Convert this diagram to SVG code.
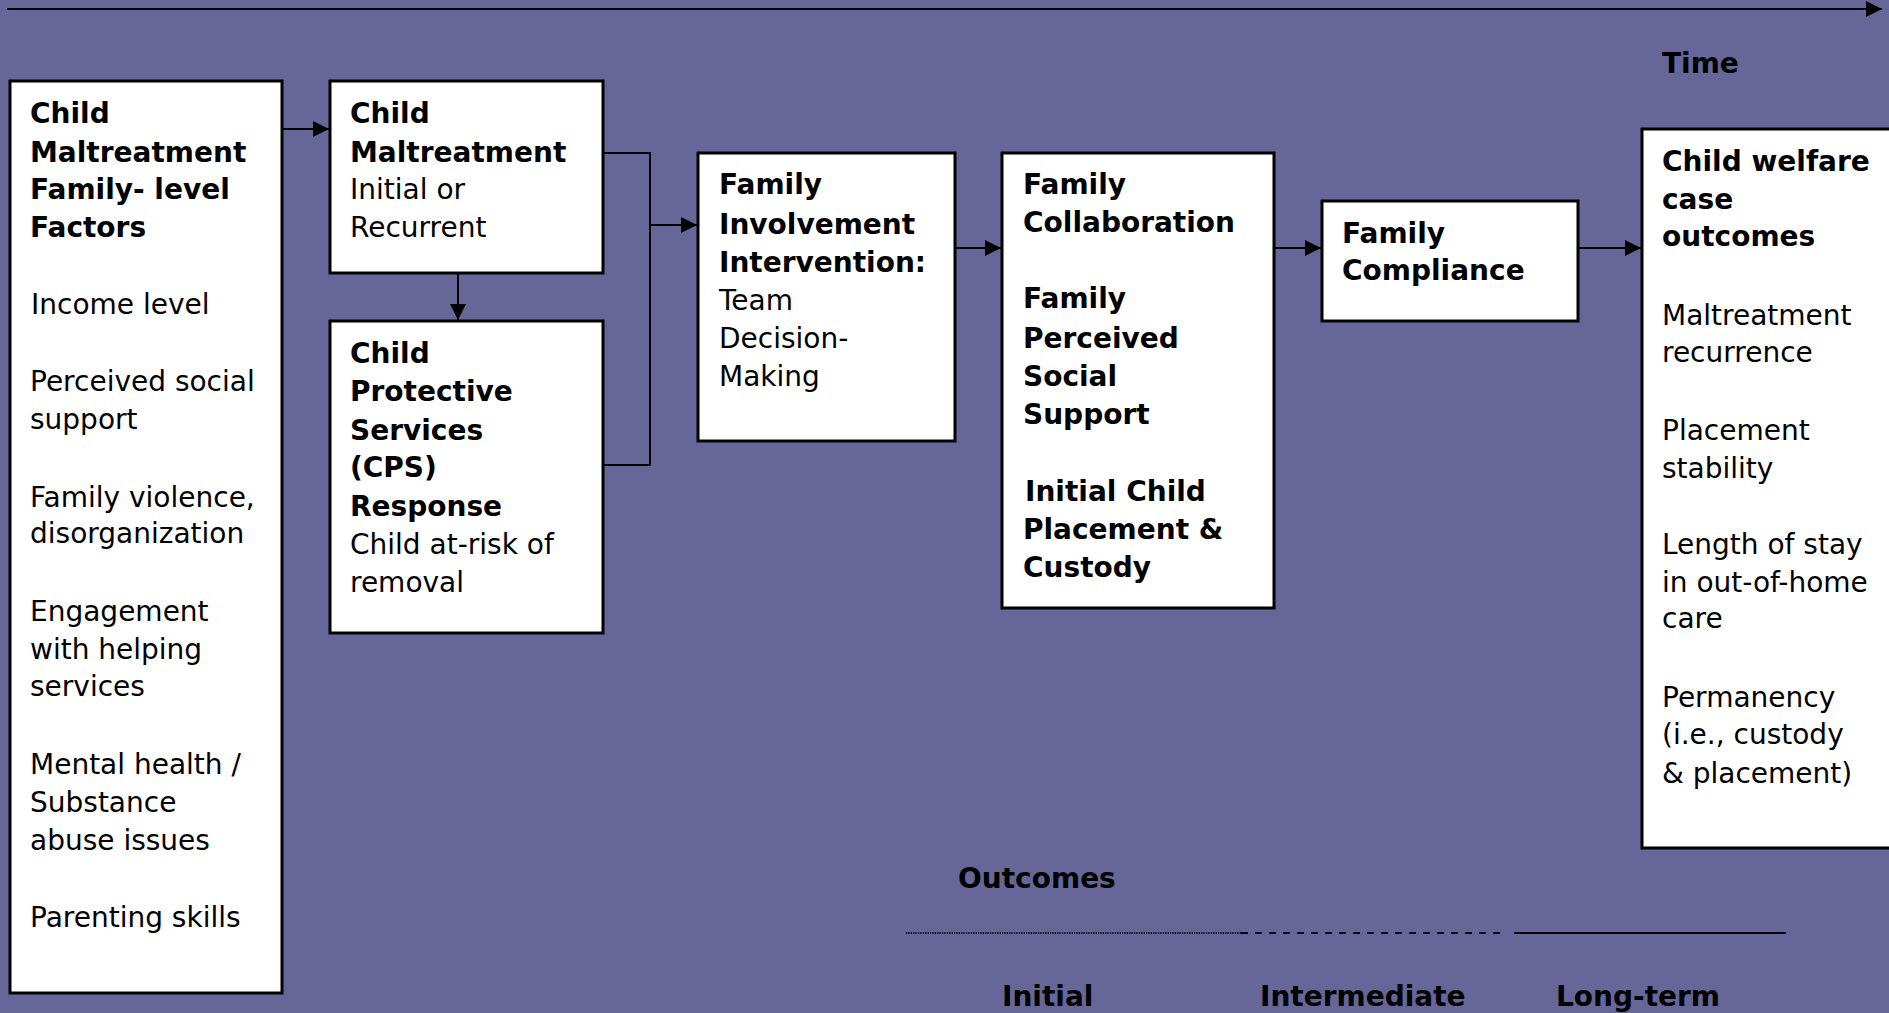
<svg xmlns="http://www.w3.org/2000/svg" width="1889" height="1013" viewBox="0 0 1889 1013">
  <style>
    .box { fill: #ffffff; stroke: #000000; stroke-width: 3; }
    .line { fill: none; stroke: #000000; stroke-width: 2; }
    text { font-family: "DejaVu Sans", Verdana, sans-serif; font-size: 28px; fill: #000000; }
    .b { font-weight: bold; }
  </style>
  <defs>
    <marker id="arrow" viewBox="0 0 16 16" refX="16" refY="8" markerWidth="16" markerHeight="16" markerUnits="userSpaceOnUse" orient="auto">
      <path d="M0,0 L16,8 L0,16 Z" fill="#000000"/>
    </marker>
  </defs>
  <rect x="0" y="0" width="1889" height="1013" fill="#666699"/>

  <g id="connectors">
    <path class="line" d="M7,9 H1882" marker-end="url(#arrow)"/>
    <path class="line" d="M282,129 H329" marker-end="url(#arrow)"/>
    <path class="line" d="M458,273 V320" marker-end="url(#arrow)"/>
    <path class="line" d="M603,153 H650 V465 H603"/>
    <path class="line" d="M650,225 H697" marker-end="url(#arrow)"/>
    <path class="line" d="M955,248 H1001" marker-end="url(#arrow)"/>
    <path class="line" d="M1274,248 H1321" marker-end="url(#arrow)"/>
    <path class="line" d="M1578,248 H1641" marker-end="url(#arrow)"/>
  </g>

  <g id="time-label">
    <text class="b" x="1662" y="73">Time</text>
  </g>

  <g id="node-family-factors">
    <rect class="box" x="10" y="81" width="272" height="912"/>
    <text class="b" x="30" y="123">Child</text>
    <text class="b" x="30" y="162">Maltreatment</text>
    <text class="b" x="30" y="199">Family- level</text>
    <text class="b" x="30" y="237">Factors</text>
    <text x="31" y="314">Income level</text>
    <text x="30" y="391">Perceived social</text>
    <text x="30" y="429">support</text>
    <text x="30" y="507">Family violence,</text>
    <text x="30" y="543">disorganization</text>
    <text x="30" y="621">Engagement</text>
    <text x="30" y="659">with helping</text>
    <text x="30" y="696">services</text>
    <text x="30" y="774">Mental health /</text>
    <text x="30" y="812">Substance</text>
    <text x="30" y="850">abuse issues</text>
    <text x="30" y="927">Parenting skills</text>
  </g>

  <g id="node-maltreatment">
    <rect class="box" x="330" y="81" width="273" height="192"/>
    <text class="b" x="350" y="123">Child</text>
    <text class="b" x="350" y="162">Maltreatment</text>
    <text x="350" y="199">Initial or</text>
    <text x="350" y="237">Recurrent</text>
  </g>

  <g id="node-cps">
    <rect class="box" x="330" y="321" width="273" height="312"/>
    <text class="b" x="350" y="363">Child</text>
    <text class="b" x="350" y="401">Protective</text>
    <text class="b" x="350" y="440">Services</text>
    <text class="b" x="350" y="477">(CPS)</text>
    <text class="b" x="350" y="516">Response</text>
    <text x="350" y="554">Child at-risk of</text>
    <text x="350" y="592">removal</text>
  </g>

  <g id="node-involvement">
    <rect class="box" x="698" y="153" width="257" height="288"/>
    <text class="b" x="719" y="194">Family</text>
    <text class="b" x="719" y="234">Involvement</text>
    <text class="b" x="719" y="272">Intervention:</text>
    <text x="719" y="310">Team</text>
    <text x="719" y="348">Decision-</text>
    <text x="719" y="386">Making</text>
  </g>

  <g id="node-collaboration">
    <rect class="box" x="1002" y="153" width="272" height="455"/>
    <text class="b" x="1023" y="194">Family</text>
    <text class="b" x="1023" y="232">Collaboration</text>
    <text class="b" x="1023" y="308">Family</text>
    <text class="b" x="1023" y="348">Perceived</text>
    <text class="b" x="1023" y="386">Social</text>
    <text class="b" x="1023" y="424">Support</text>
    <text class="b" x="1025" y="501">Initial Child</text>
    <text class="b" x="1023" y="539">Placement &amp;</text>
    <text class="b" x="1023" y="577">Custody</text>
  </g>

  <g id="node-compliance">
    <rect class="box" x="1322" y="201" width="256" height="120"/>
    <text class="b" x="1342" y="243">Family</text>
    <text class="b" x="1342" y="280">Compliance</text>
  </g>

  <g id="node-outcomes">
    <rect class="box" x="1642" y="129" width="260" height="719"/>
    <text class="b" x="1662" y="171">Child welfare</text>
    <text class="b" x="1662" y="209">case</text>
    <text class="b" x="1662" y="246">outcomes</text>
    <text x="1662" y="325">Maltreatment</text>
    <text x="1662" y="362">recurrence</text>
    <text x="1662" y="440">Placement</text>
    <text x="1662" y="478">stability</text>
    <text x="1662" y="554">Length of stay</text>
    <text x="1662" y="592">in out-of-home</text>
    <text x="1662" y="628">care</text>
    <text x="1662" y="707">Permanency</text>
    <text x="1662" y="744">(i.e., custody</text>
    <text x="1662" y="783">&amp; placement)</text>
  </g>

  <g id="legend">
    <text class="b" x="958" y="888">Outcomes</text>
    <line x1="906" y1="933" x2="1241" y2="933" stroke="#000000" stroke-width="2" stroke-dasharray="1.2 1.2"/>
    <line x1="1241" y1="933" x2="1501" y2="933" stroke="#000000" stroke-width="2" stroke-dasharray="7 7"/>
    <line x1="1514" y1="933" x2="1786" y2="933" stroke="#000000" stroke-width="2"/>
    <text class="b" x="1002" y="1006">Initial</text>
    <text class="b" x="1260" y="1006">Intermediate</text>
    <text class="b" x="1556" y="1006">Long-term</text>
  </g>
</svg>
